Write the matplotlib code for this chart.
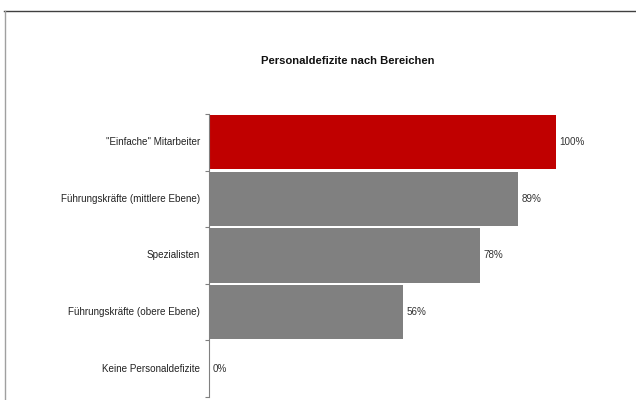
import matplotlib.pyplot as plt
from matplotlib.lines import Line2D

plt.rcParams['font.family'] = ['Liberation Sans', 'DejaVu Sans']

# Anteile je Bereich (1.0 = 100 %)
bereiche = [
    '"Einfache" Mitarbeiter',
    'Führungskräfte (mittlere Ebene)',
    'Spezialisten',
    'Führungskräfte (obere Ebene)',
    'Keine Personaldefizite',
]
anteile = [1.00, 0.89, 0.78, 0.56, 0.00]
farben = ['#c00000', '#808080', '#808080', '#808080', '#808080']

W, H = 636, 400
fig = plt.figure(figsize=(W / 100, H / 100), dpi=100)

# Plotbereich in Pixeln: Achse bei x=209, 100 % bei x=556, y von 114 bis 397
x0, x100, y_top, y_bot = 209, 556, 114, 397
xmax = 1.2
ax = fig.add_axes([x0 / W, 1 - y_bot / H, xmax * (x100 - x0) / W, (y_bot - y_top) / H])

pos = list(range(len(bereiche)))
ax.barh(pos, anteile, height=0.96, color=farben, zorder=2)
ax.set_ylim(len(bereiche) - 0.5, -0.5)
ax.set_xlim(0, xmax)

for p, v in zip(pos, anteile):
    ax.annotate(f'{v:.0%}', (v, p), xytext=(2.6, 0), textcoords='offset points',
                va='center', ha='left', fontsize=7.1, color='#333333')

# Kategorienbeschriftung statt Ticklabels, Ticks an den Grenzen
ax.set_yticks([p - 0.5 for p in pos] + [len(bereiche) - 0.5])
ax.set_yticklabels([])
ax.tick_params(axis='y', direction='out', length=3, width=0.8, color='#808080')
for p, name in zip(pos, bereiche):
    ax.text(-0.021, p, name, ha='right', va='center', fontsize=7.1, color='#222222',
            transform=ax.get_yaxis_transform())

ax.set_xticks([])
for s in ['top', 'right', 'bottom']:
    ax.spines[s].set_visible(False)
ax.spines['left'].set_color('#808080')
ax.spines['left'].set_linewidth(0.8)

fig.text(347.5 / W, 1 - 61 / H, 'Personaldefizite nach Bereichen', ha='center', va='center',
         fontsize=8.1, fontweight='bold', color='#111111')

# Rahmen des Diagrammbereichs
fig.add_artist(Line2D([4 / W, 1], [1 - 11 / H, 1 - 11 / H], transform=fig.transFigure,
                      color='#404040', linewidth=1.0))
fig.add_artist(Line2D([5 / W, 5 / W], [1 - 11 / H, 0], transform=fig.transFigure,
                      color='#a0a0a0', linewidth=1.0))

fig.savefig('out.png', dpi=100)
